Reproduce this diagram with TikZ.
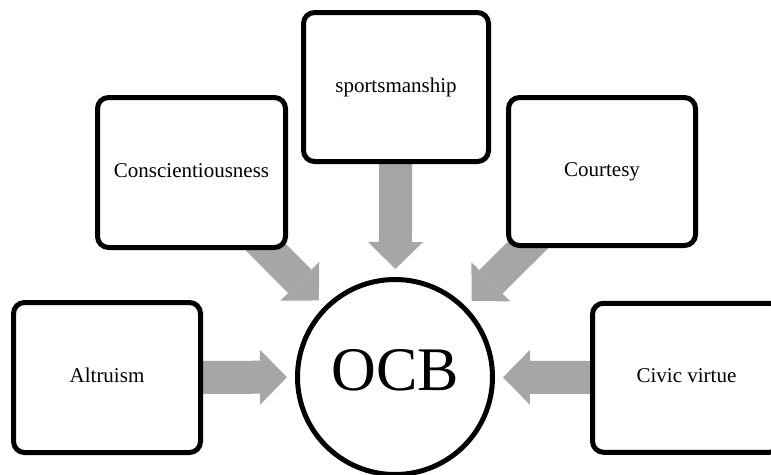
\documentclass[tikz,border=0pt]{standalone}
\usepackage{fontspec}
\setmainfont{Liberation Serif}
\usetikzlibrary{arrows.meta,calc,backgrounds}
\definecolor{arrgray}{RGB}{166,166,166}
\begin{document}
\begin{tikzpicture}[x=1pt,y=-1pt,
  box/.style={draw=black, line width=5pt, rounded corners=11pt, fill=white,
    minimum width=187pt, minimum height=150pt, inner sep=0pt,
    text height=14pt, text depth=4pt, font=\fontsize{21}{25}\selectfont},
  hub/.style={circle, draw=black, line width=5pt, fill=white, minimum size=195pt,
    inner sep=0pt, text depth=14pt, font=\fontsize{62}{70}\selectfont},
  blockarrow/.style={draw=arrgray, line width=33pt,
    -{Triangle[width=55pt,length=27pt,line width=0pt]}}]
\useasboundingbox (0,0) rectangle (771,474);
\node[hub] (ocb) at (395,377) {OCB};
\node[box] (alt) at (107,377.5) {Altruism};
\node[box, minimum width=188pt] (con) at (191.5,172.5) {Conscientiousness};
\node[box, minimum width=185pt, minimum height=149pt] (spo) at (396,87) {sportsmanship};
\node[box, minimum height=148pt] (cou) at (602,171.5) {Courtesy};
\node[box, minimum width=188pt, minimum height=149pt] (civ) at (686.5,377.75) {Civic virtue};
\begin{scope}[on background layer]
\foreach \b in {alt,con,spo,cou,civ}
  \draw[blockarrow] (\b.center) -- ($(ocb.center)!108pt!(\b.center)$);
\end{scope}
\end{tikzpicture}
\end{document}
